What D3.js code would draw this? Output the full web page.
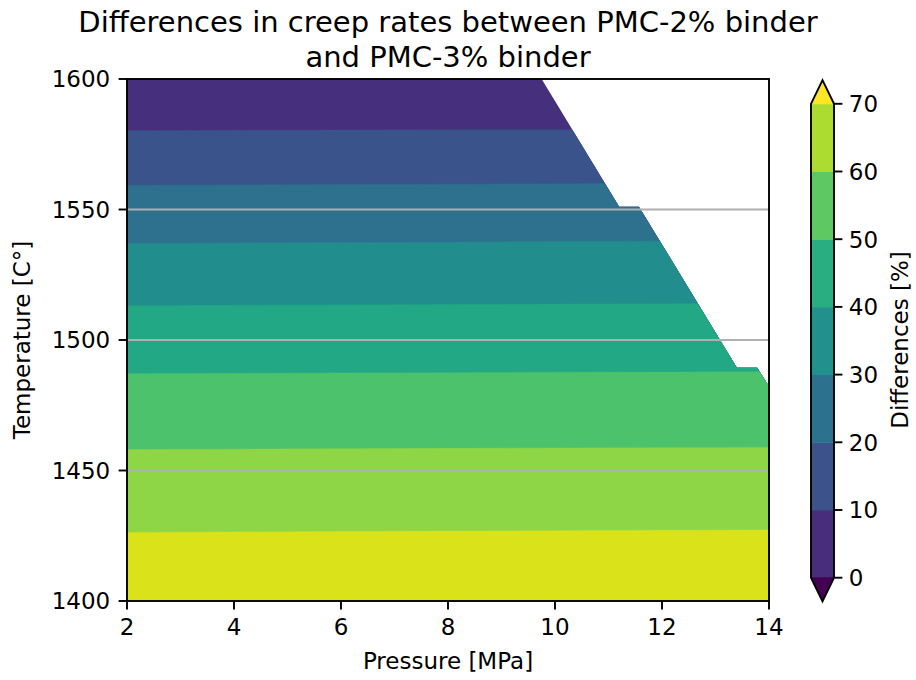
<!DOCTYPE html>
<html>
<head>
<meta charset="utf-8">
<script src="https://cdn.jsdelivr.net/npm/d3@7"></script>
<style>
  body { margin: 0; background: #fff; }
  svg { display: block; }
  text { font-family: "DejaVu Sans", sans-serif; fill: #000; }
</style>
</head>
<body>
<svg id="chart" width="916" height="680"></svg>
<script>
// Measurement grid: pressure [MPa] (columns) x temperature [°C] (rows)
const pressures = [2, 4, 6, 8, 10, 12, 14];
const temperatures = [1400, 1425, 1450, 1475, 1500, 1525, 1550, 1575, 1600];

// Difference in creep rate [%] between PMC-2% and PMC-3% binder, one row per temperature
const diffRow1400 = [77.3, 77.4, 77.4, 77.5, 77.5, 77.6, 77.6];
const diffRow1425 = [70.4, 70.45, 70.5, 70.55, 70.6, 70.65, 70.7];
const diffRow1450 = [62.65, 62.7, 62.75, 62.8, 62.85, 62.9, 62.9];
const diffRow1475 = [54.4, 54.45, 54.5, 54.55, 54.6, 54.6, 54.65];
const diffRow1500 = [45.3, 45.35, 45.4, 45.45, 45.5, 45.55, 45.6];
const diffRow1525 = [35.2, 35.3, 35.35, 35.4, 35.5, 35.55, 35.6];
const diffRow1550 = [24.35, 24.45, 24.5, 24.6, 24.7, 24.75, 24.8];
const diffRow1575 = [12.6, 12.65, 12.7, 12.75, 12.8, 12.85, 12.9];
const diffRow1600 = [0.2, 0.25, 0.25, 0.3, 0.3, 0.35, 0.35];

// Edge of the measured region (no data beyond it, toward high pressure / high temperature)
const edgePressure = [9.75, 11.2, 11.57, 13.4, 13.78, 14];
const edgeTemperature = [1600, 1551.1, 1551.1, 1489.4, 1489.4, 1482.2];

// Contour levels and tick labels
const levels = [0, 10, 20, 30, 40, 50, 60, 70];
const xTicks = [2, 4, 6, 8, 10, 12, 14];
const yTicks = [1400, 1450, 1500, 1550, 1600];

const titleLines = ["Differences in creep rates between PMC-2% binder", "and PMC-3% binder"];
const xLabel = "Pressure [MPa]";
const yLabel = "Temperature [C°]";
const cbLabel = "Differences [%]";

const diffRows = [diffRow1400, diffRow1425, diffRow1450, diffRow1475, diffRow1500,
                  diffRow1525, diffRow1550, diffRow1575, diffRow1600];

// ---- layout ----
const svg = d3.select("#chart");
const plot = { left: 127, right: 769, top: 79, bottom: 601 };
const fontTick = 23, fontTitle = 29;
const tickLen = 8.4, tickPad = 8.4, spineW = 1.9;

const x = d3.scaleLinear().domain([2, 14]).range([plot.left, plot.right]);
const y = d3.scaleLinear().domain([1400, 1600]).range([plot.bottom, plot.top]);

// Fill colours: viridis over the band mid values
const step = levels[1] - levels[0];
const fillColor = d3.scaleSequential(d3.interpolateViridis).domain([-7.2, 79.8]);

// ---- filled contours ----
const nx = pressures.length, ny = temperatures.length;
const values = diffRows.flat();
const contours = d3.contours().size([nx, ny]).thresholds(levels)(values);

// grid cell coordinates -> pixels (grid value k sits at k + 0.5)
const gx = d3.scaleLinear().domain([0.5, nx - 0.5]).range([x(pressures[0]), x(pressures[nx - 1])]);
const gy = d3.scaleLinear().domain([0.5, ny - 0.5]).range([y(temperatures[0]), y(temperatures[ny - 1])]);
const gridPath = d3.geoPath(d3.geoTransform({
  point(px, py) { this.stream.point(gx(px), gy(py)); }
}));

// clip region: measured area bounded by the data edge
const coverage = [[pressures[0], temperatures[0]], [pressures[nx - 1], temperatures[0]]];
for (let i = edgePressure.length - 1; i >= 0; i--) coverage.push([edgePressure[i], edgeTemperature[i]]);
coverage.push([pressures[0], temperatures[ny - 1]]);

const defs = svg.append("defs");
defs.append("clipPath").attr("id", "coverage")
  .append("path")
  .attr("d", d3.line().x(d => x(d[0])).y(d => y(d[1]))(coverage) + "Z");

svg.append("g").attr("clip-path", "url(#coverage)")
  .selectAll("path")
  .data(contours)
  .join("path")
  .attr("d", gridPath)
  .attr("fill", d => fillColor(d.value + step / 2))
  .attr("stroke", d => fillColor(d.value + step / 2))
  .attr("stroke-width", 0.4);

// ---- grid lines (horizontal, drawn above the fill) ----
svg.append("g")
  .selectAll("line")
  .data(yTicks.filter(t => t > 1400 && t < 1600))
  .join("line")
  .attr("x1", plot.left).attr("x2", plot.right)
  .attr("y1", d => y(d)).attr("y2", d => y(d))
  .attr("stroke", "#b0b0b0").attr("stroke-width", 1.9);

// ---- axes ----
svg.append("rect")
  .attr("x", plot.left).attr("y", plot.top)
  .attr("width", plot.right - plot.left).attr("height", plot.bottom - plot.top)
  .attr("fill", "none").attr("stroke", "#000").attr("stroke-width", spineW);

const xAxis = svg.append("g");
xAxis.selectAll("line").data(xTicks).join("line")
  .attr("x1", d => x(d)).attr("x2", d => x(d))
  .attr("y1", plot.bottom).attr("y2", plot.bottom + tickLen)
  .attr("stroke", "#000").attr("stroke-width", spineW);
xAxis.selectAll("text").data(xTicks).join("text")
  .attr("x", d => x(d)).attr("y", plot.bottom + tickLen + tickPad + 0.729 * fontTick)
  .attr("text-anchor", "middle").attr("font-size", fontTick)
  .text(d => d);

const yAxis = svg.append("g");
yAxis.selectAll("line").data(yTicks).join("line")
  .attr("x1", plot.left - tickLen).attr("x2", plot.left)
  .attr("y1", d => y(d)).attr("y2", d => y(d))
  .attr("stroke", "#000").attr("stroke-width", spineW);
yAxis.selectAll("text").data(yTicks).join("text")
  .attr("x", plot.left - tickLen - tickPad).attr("y", d => y(d) + 0.729 * fontTick / 2)
  .attr("text-anchor", "end").attr("font-size", fontTick)
  .text(d => d);

svg.append("text")
  .attr("x", (plot.left + plot.right) / 2).attr("y", 669)
  .attr("text-anchor", "middle").attr("font-size", fontTick)
  .text(xLabel);

svg.append("text")
  .attr("transform", `translate(30,${(plot.top + plot.bottom) / 2}) rotate(-90)`)
  .attr("text-anchor", "middle").attr("font-size", fontTick)
  .text(yLabel);

svg.append("g").selectAll("text").data(titleLines).join("text")
  .attr("x", (plot.left + plot.right) / 2).attr("y", (d, i) => 32 + i * 34.8)
  .attr("text-anchor", "middle").attr("font-size", fontTitle)
  .text(d => d);

// ---- colorbar ----
const cb = { left: 811, right: 834 };
const cbY = d3.scaleLinear().domain([levels[0], levels[levels.length - 1]]).range([577.7, 103.8]);
const extendLen = 0.05 * (cbY.range()[0] - cbY.range()[1]);
const cbColor = d3.scaleSequential(d3.interpolateViridis).domain([0, levels.length]);
const cbMid = (cb.left + cb.right) / 2;
const cbG = svg.append("g");

cbG.selectAll("rect").data(levels.slice(0, -1)).join("rect")
  .attr("x", cb.left).attr("width", cb.right - cb.left)
  .attr("y", d => cbY(d + step)).attr("height", d => cbY(d) - cbY(d + step) + 0.5)
  .attr("fill", (d, i) => cbColor(i + 1));

const yTop = cbY(levels[levels.length - 1]), yBot = cbY(levels[0]);
cbG.append("path")
  .attr("d", `M${cb.left},${yTop + 0.5}L${cbMid},${yTop - extendLen}L${cb.right},${yTop + 0.5}Z`)
  .attr("fill", cbColor(levels.length));
cbG.append("path")
  .attr("d", `M${cb.left},${yBot - 0.5}L${cbMid},${yBot + extendLen}L${cb.right},${yBot - 0.5}Z`)
  .attr("fill", cbColor(0));
cbG.append("path")
  .attr("d", `M${cb.left},${yTop}L${cbMid},${yTop - extendLen}L${cb.right},${yTop}L${cb.right},${yBot}L${cbMid},${yBot + extendLen}L${cb.left},${yBot}Z`)
  .attr("fill", "none").attr("stroke", "#000").attr("stroke-width", spineW)
  .attr("stroke-linejoin", "miter");

cbG.selectAll("line.tick").data(levels).join("line").attr("class", "tick")
  .attr("x1", cb.right).attr("x2", cb.right + tickLen)
  .attr("y1", d => cbY(d)).attr("y2", d => cbY(d))
  .attr("stroke", "#000").attr("stroke-width", spineW);
cbG.selectAll("text").data(levels).join("text")
  .attr("x", cb.right + tickLen + tickPad - 2).attr("y", d => cbY(d) + 0.729 * fontTick / 2)
  .attr("font-size", fontTick)
  .text(d => d);

svg.append("text")
  .attr("transform", `translate(908,${(plot.top + plot.bottom) / 2}) rotate(-90)`)
  .attr("text-anchor", "middle").attr("font-size", fontTick)
  .text(cbLabel);
</script>
</body>
</html>
